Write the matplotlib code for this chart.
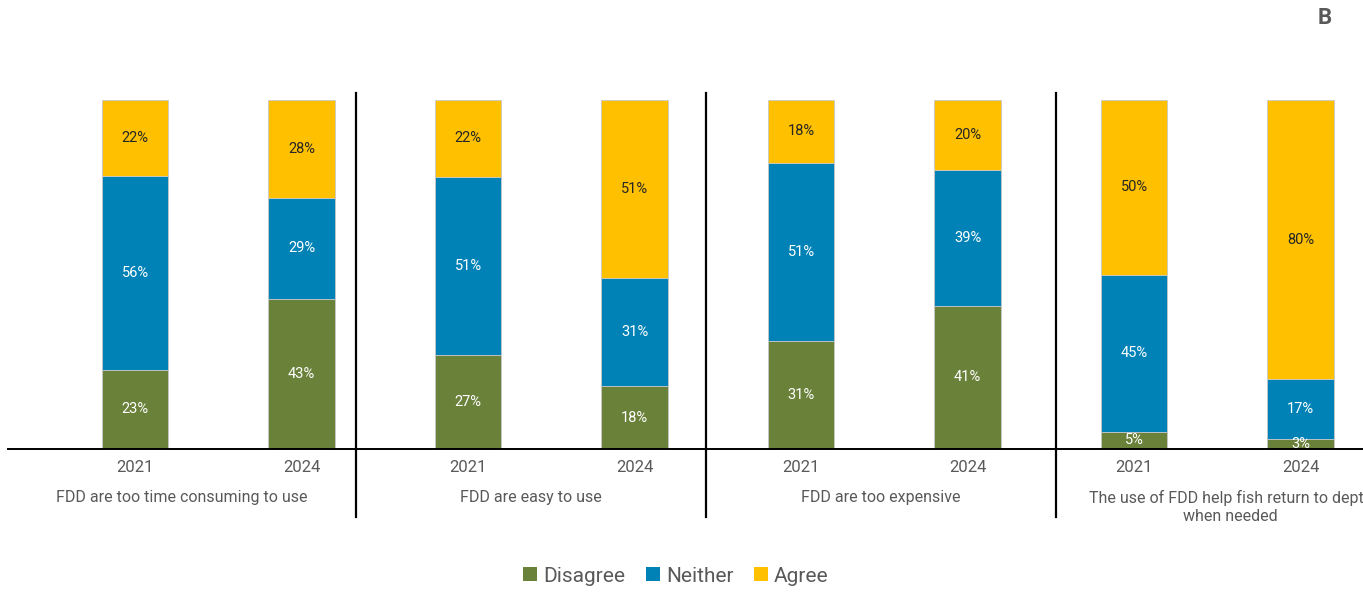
import numpy as np
import matplotlib.pyplot as plt
from matplotlib.patches import Patch

plt.rcParams['font.family'] = ['Roboto', 'DejaVu Sans']

# Survey answers per statement, 2021 and 2024 side by side
statements = ['FDD are too time consuming to use', 'FDD are easy to use',
              'FDD are too expensive',
              'The use of FDD help fish return to depth\nwhen needed']
years = ['2021', '2024']
disagree = [23, 43, 27, 18, 31, 41, 5, 3]
neither = [56, 29, 51, 31, 51, 39, 45, 17]
agree = [22, 28, 22, 51, 18, 20, 50, 80]

labels = ['Disagree', 'Neither', 'Agree']
colors = ['#6A813A', '#0082B6', '#FFC000']
text_colors = ['white', 'white', '#262626']

series = np.array([disagree, neither, agree], dtype=float)
shares = series / series.sum(axis=0)   # 100% stacked
x = np.arange(series.shape[1])

W, H = 1363, 592
fig = plt.figure(figsize=(W / 100, H / 100), dpi=100)
ax = fig.add_axes([8 / W, (H - 449) / H, (W - 8) / W, 349 / H])
ax.set_xlim(-0.763, 7.375)
ax.set_ylim(0, 1)

bottom = np.zeros(len(x))
for vals, share, col, tcol in zip(series, shares, colors, text_colors):
    ax.bar(x, share, 0.40, bottom=bottom, color=col,
           edgecolor='#C8C8C8', linewidth=0.6, zorder=2)
    for xi, b, s, v in zip(x, bottom, share, vals):
        ax.text(xi, b + s / 2, f'{v:.0f}%', ha='center', va='center',
                fontsize=10.5, color=tcol, zorder=4)
    bottom += share

for side in ['top', 'right', 'left']:
    ax.spines[side].set_visible(False)
ax.spines['bottom'].set_color('black')
ax.spines['bottom'].set_linewidth(1.4)
ax.spines['bottom'].set_zorder(3)
ax.set_yticks([])
ax.set_xticks(x)
ax.set_xticklabels(years * len(statements), fontsize=12, color='#595959')
ax.tick_params(axis='x', length=0, pad=8)

# group separators and statement labels
edges = [-0.763, 1.327, 3.429, 5.532, 7.63]
for e in edges[1:-1]:
    ax.plot([e, e], [1.02, -0.195], color='black', lw=1.6,
            clip_on=False, zorder=3)
for i, s in enumerate(statements):
    ax.text((edges[i] + edges[i + 1]) / 2, -0.118, s, ha='center', va='top',
            fontsize=11.5, color='#595959', linespacing=1.25)

handles = [Patch(facecolor=c, edgecolor='none') for c in colors]
leg = fig.legend(handles, labels, loc='center', bbox_to_anchor=(676 / W, 1 - 576 / H),
                 ncol=3, frameon=False, fontsize=15, handlelength=0.65,
                 handleheight=0.65, handletextpad=0.3, columnspacing=1.0)
for t in leg.get_texts():
    t.set_color('#595959')

fig.text(1325 / W, 1 - 18 / H, 'B', ha='center', va='center',
         fontsize=16, fontweight='bold', color='#595959')

fig.savefig('out.png', dpi=100)
